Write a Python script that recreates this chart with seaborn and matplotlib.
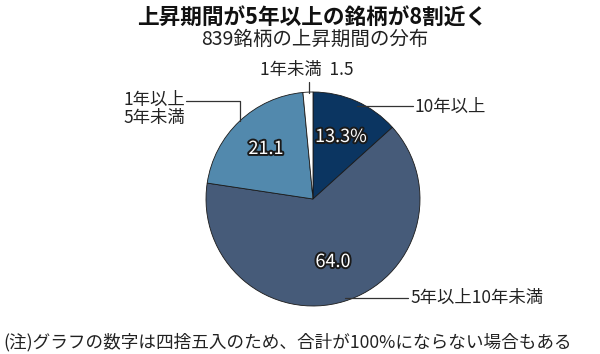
import matplotlib
matplotlib.use("Agg")
import matplotlib.pyplot as plt
import matplotlib.patheffects as pe
import seaborn as sns

# Data
categories = ["10年以上", "5年以上10年未満", "1年以上\n5年未満", "1年未満"]
shares = [13.3, 64.0, 21.1, 1.5]
value_labels = ["13.3%", "64.0", "21.1", "1.5"]
colors = ["#0b3561", "#465b79", "#5289ad", "#ffffff"]

title = "上昇期間が5年以上の銘柄が8割近く"
subtitle = "839銘柄の上昇期間の分布"
note = "(注)グラフの数字は四捨五入のため、合計が100%にならない場合もある"

sns.set_theme(style="white")
plt.rcParams["font.family"] = ["Noto Sans CJK JP", "DejaVu Sans"]

W, H = 600, 354
fig = plt.figure(figsize=(W / 100, H / 100), dpi=100)
ax = fig.add_axes([0, 0, 1, 1])
ax.set_xlim(0, W)
ax.set_ylim(0, H)
ax.axis("off")


def py(y):
    # pixel row (from top) -> data y
    return H - y


cx, cy, r = 313, 199, 107
wedges, _ = ax.pie(
    shares,
    colors=colors,
    startangle=90,
    counterclock=False,
    center=(cx, py(cy)),
    radius=r,
    wedgeprops=dict(edgecolor="#1a1a1a", linewidth=0.6),
)
ax.set_xlim(0, W)
ax.set_ylim(0, H)
ax.set_aspect("equal")

stroke = [pe.Stroke(linewidth=2.8, foreground="#1a1a1a"), pe.Normal()]
inner = {"13.3%": (341, 137), "64.0": (333, 262), "21.1": (266, 149)}
for lab in value_labels[:3]:
    x, y = inner[lab]
    ax.text(x, py(y), lab, ha="center", va="center", fontsize=13,
            color="white", path_effects=stroke)

lc = "#333333"
lw = 0.9
# 10年以上
ax.plot([357, 413], [py(106), py(106)], color=lc, lw=lw)
ax.text(415, py(107), categories[0], ha="left", va="center", fontsize=12.5, color="#222")
# 5年以上10年未満
ax.plot([345, 408], [py(298), py(298)], color=lc, lw=lw)
ax.text(410, py(298), categories[1], ha="left", va="center", fontsize=12.5, color="#222")
# 1年以上5年未満
ax.plot([186, 240, 240], [py(101), py(101), py(121)], color=lc, lw=lw)
ax.text(185, py(109), categories[2], ha="right", va="center", fontsize=12.5,
        color="#222", linespacing=1.05)
# 1年未満
ax.plot([309, 309], [py(82), py(93)], color=lc, lw=lw)
ax.text(307, py(70), categories[3] + "  " + value_labels[3], ha="center", va="center",
        fontsize=12.5, color="#222")

fig.text(312 / W, 1 - 17 / H, title, ha="center", va="center", fontsize=15.6,
         fontweight="bold", color="#111")
fig.text(315 / W, 1 - 39 / H, subtitle, ha="center", va="center", fontsize=14, color="#222")
fig.text(3 / W, 1 - 342 / H, note, ha="left", va="center", fontsize=12.7, color="#222")

fig.savefig("out.png", dpi=100)
